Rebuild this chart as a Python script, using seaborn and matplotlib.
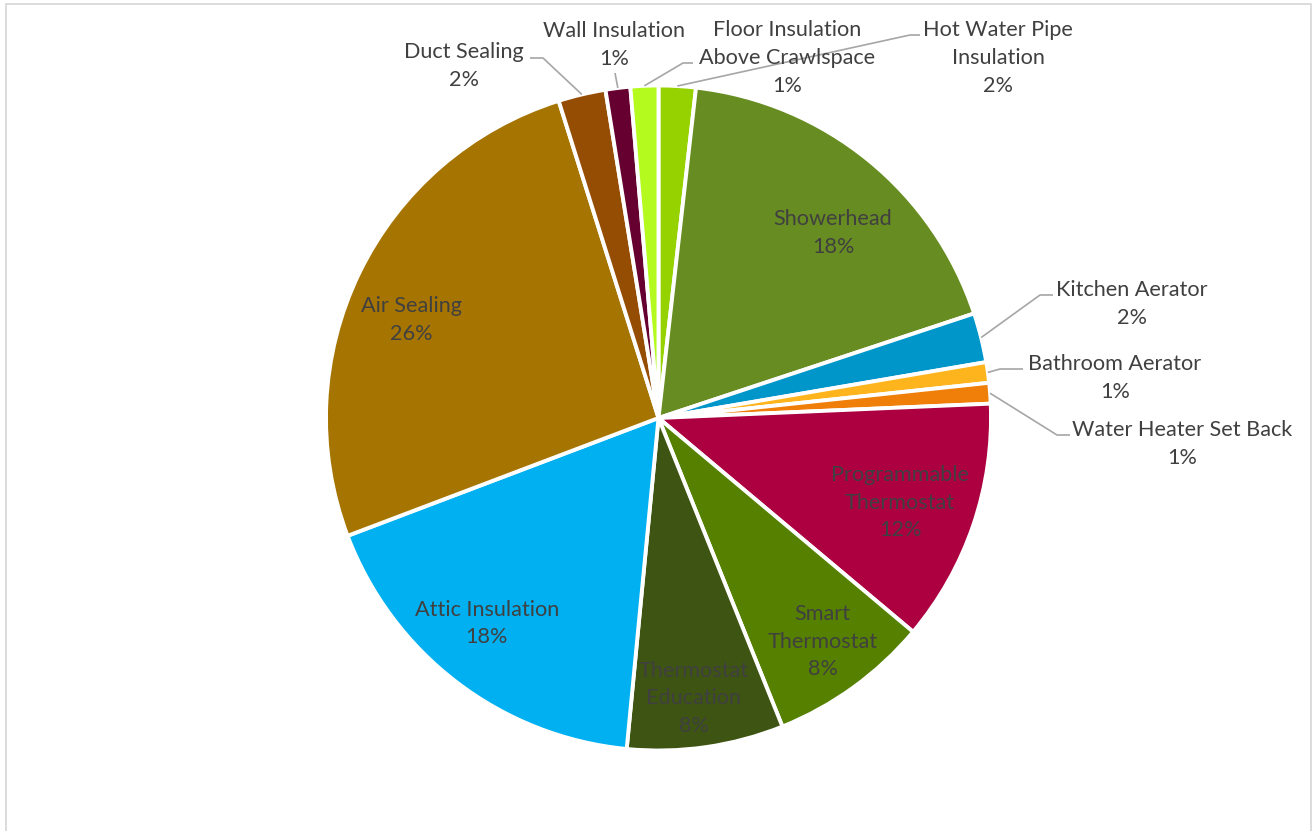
import numpy as np
import matplotlib
matplotlib.use('Agg')
import matplotlib.pyplot as plt
import seaborn as sns
from matplotlib.patches import Rectangle

# ---- data (% share, clockwise from 12 o'clock) ----
measures = ['Hot Water Pipe Insulation', 'Showerhead', 'Kitchen Aerator', 'Bathroom Aerator',
            'Water Heater Set Back', 'Programmable Thermostat', 'Smart Thermostat',
            'Thermostat Education', 'Attic Insulation', 'Air Sealing', 'Duct Sealing',
            'Wall Insulation', 'Floor Insulation Above Crawlspace']
shares = [1.8, 18.1, 2.4, 1.0, 1.0, 11.8, 7.8, 7.6, 17.7, 25.9, 2.3, 1.2, 1.35]
display_names = ['Hot Water Pipe\nInsulation', 'Showerhead', 'Kitchen Aerator', 'Bathroom Aerator',
                 'Water Heater Set Back', 'Programmable\nThermostat', 'Smart\nThermostat',
                 'Thermostat\nEducation', 'Attic Insulation', 'Air Sealing', 'Duct Sealing',
                 'Wall Insulation', 'Floor Insulation\nAbove Crawlspace']
slice_colors = ['#95D200', '#678C21', '#0096CA', '#FEB51D', '#F07F09', '#AD0040', '#558000',
                '#3D5412', '#00B0F0', '#A67400', '#954D04', '#660030', '#B4FA1E']

sns.set_theme(style='white')
plt.rcParams['font.family'] = ['Lato', 'DejaVu Sans']

W, H = 1316, 831
fig = plt.figure(figsize=(W / 100, H / 100), dpi=100)
ax = fig.add_axes([0, 0, 1, 1])

cx, cy, R = 658.5, H - 418, 332.5
wedges, _ = ax.pie(shares, colors=sns.color_palette(slice_colors), startangle=90,
                   counterclock=False, center=(cx, cy), radius=R, normalize=True,
                   wedgeprops=dict(edgecolor='white', linewidth=2.8))
# pie() resets the limits, so set the pixel frame afterwards
ax.set_xlim(0, W)
ax.set_ylim(0, H)
ax.set_aspect('equal')
ax.axis('off')

total = sum(shares)
pct = [f'{round(v / total * 100):.0f}%' for v in shares]
txt_color = '#404040'
fs = 15.6
lsp = 1.47

def mid_point(w, frac, dtheta=0.0):
    a = np.deg2rad((w.theta1 + w.theta2) / 2 + dtheta)
    return cx + frac * R * np.cos(a), cy + frac * R * np.sin(a)

# labels inside the big slices: (radius fraction, angle nudge in degrees)
inside = {'Showerhead': (0.765, -4.2), 'Programmable Thermostat': (0.77, -0.5),
          'Smart Thermostat': (0.835, 0.3), 'Thermostat Education': (0.85, -1.0),
          'Attic Insulation': (0.806, -2.5), 'Air Sealing': (0.80, 4.3)}
for i, name in enumerate(measures):
    if name in inside:
        x, y = mid_point(wedges[i], *inside[name])
        ax.text(x, y, f'{display_names[i]}\n{pct[i]}', ha='center', va='center',
                fontsize=fs, color=txt_color, linespacing=lsp)

# labels outside with leader lines: elbow, line end, text centre (pixel coords, y from top)
outside = {
    'Hot Water Pipe Insulation': ((910, 35), (920, 35), (998, 58)),
    'Floor Insulation Above Crawlspace': ((683, 63), (693, 63), (787, 58)),
    'Wall Insulation': ((615, 73), (615, 73), (614, 45)),
    'Duct Sealing': ((543, 58), (530, 58), (464, 66)),
    'Kitchen Aerator': ((1040, 295), (1053, 295), (1132, 304)),
    'Bathroom Aerator': ((1000, 369), (1023, 369), (1115, 378)),
    'Water Heater Set Back': ((1057, 435), (1070, 435), (1182, 444)),
}
for i, name in enumerate(measures):
    if name in outside:
        (ex, ey), (lx, ly), (tx, ty) = outside[name]
        sx, sy = mid_point(wedges[i], 1.0)
        ax.plot([sx, ex, lx], [sy, H - ey, H - ly], color='#A6A6A6', lw=1.2,
                solid_capstyle='butt')
        ax.text(tx, H - ty, f'{display_names[i]}\n{pct[i]}', ha='center', va='center',
                fontsize=fs, color=txt_color, linespacing=lsp)

# chart area frame
ax.add_patch(Rectangle((5.5, -20), 1305.5, H - 3.5 + 20, fill=False,
                       edgecolor='#D9D9D9', lw=1.3, clip_on=False))

fig.savefig('out.png', dpi=100)
